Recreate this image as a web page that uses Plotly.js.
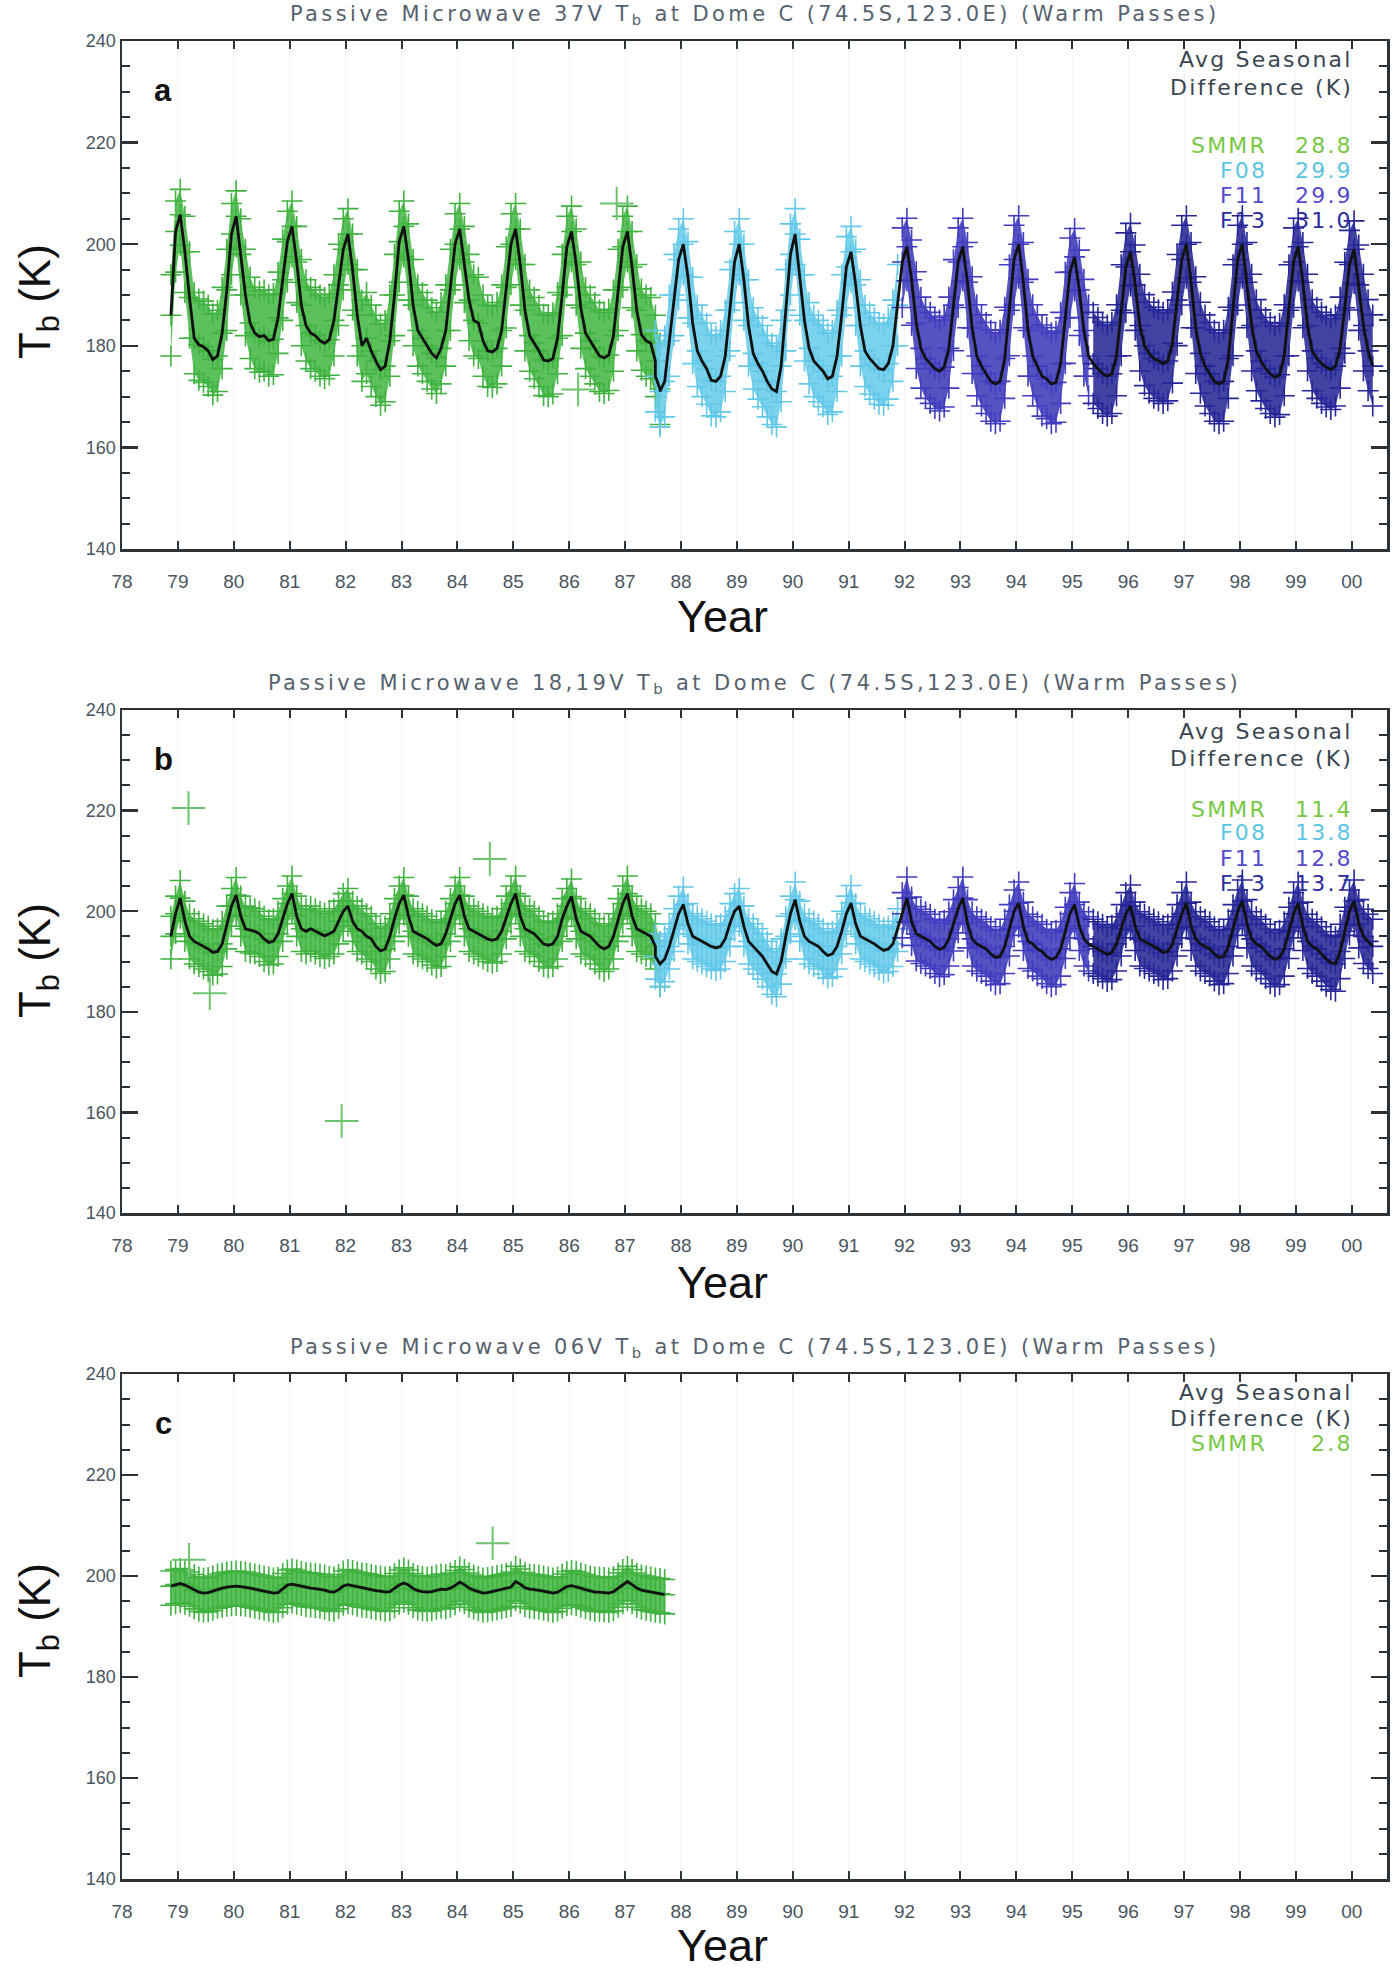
<!DOCTYPE html>
<html>
<head>
<meta charset="utf-8">
<script src="https://cdn.plot.ly/plotly-3.0.1.min.js"></script>
<style>
html,body{margin:0;padding:0;background:#fff;}
#chart{width:1400px;height:1970px;}
text.annotation-text[style*="font-size: 21px"]{letter-spacing:3.4px;}
text.annotation-text[style*="font-size: 22px"]{letter-spacing:2.2px;}
</style>
</head>
<body>
<div id="chart"></div>
<script>
// ---------------- DATA (monthly values, K) ----------------
const sensorNames = ['SMMR', 'F08', 'F11', 'F13'];
const sensorStart = [[1978, 11], [1987, 7], [1991, 12], [1995, 5]];

const yearTicks = [1978,1979,1980,1981,1982,1983,1984,1985,1986,1987,1988,1989,1990,1991,1992,1993,1994,1995,1996,1997,1998,1999,2000];
const yearLabels = ['78','79','80','81','82','83','84','85','86','87','88','89','90','91','92','93','94','95','96','97','98','99','00'];

// Panel a: 37V
const a_SMMR = [186,202.5,
 205.8,198.5,189.5,181.5,180.2,179.8,179,177.3,178,182.5,191,202,
 205.5,198,190,184.5,182.5,181.8,182,181,181.3,185.5,193,200.5,
 203.5,196.5,188,184,182.5,182,181,180.5,181.2,185,192,199,
 202,195,186,180,181.5,179,177,175.3,176,181,190,200.5,
 203.5,197,188,183,181.5,180,178.5,177.6,179.5,183,191,200,
 203,196.5,189,185,184.5,181,179,178.8,179.5,183,191.5,200,
 203,196,187,182,180.5,179,177.2,177,177.5,181.5,190,199.5,
 202.5,196,187.5,182.5,181,179.5,178,177.6,178.2,182,191,199.5,
 202.5,195.5,187,182.2,181,180.5,177,171.5];
const a_F08 = [174,171,173,181,190,197,
 200,193.5,184.5,179,177,175.5,173.2,173,174,178,187,196.5,
 200,193,184,178.5,176.5,175,173,171.5,171,176,187,198,
 202,194,185,179.5,177,176,175,173.5,174,178,186,195.5,
 198.5,192,184,179,177.5,176.5,175.5,175.3,176.5,180,188];
const a_F11 = [196.5,
 199.5,193,184.5,179.5,177.5,176.5,175.5,175,175.8,179.5,188,196.5,
 199.5,192.5,183.5,178,176,174.5,173,172.5,173,177.5,187,197,
 200,192.5,183,178,176,174,173.5,172.5,172.8,176.5,185.5,194.5,
 197.5,191,183,178];
const a_F13 = [176.5,175.5,174.5,174,174.5,178,187,195.5,
 198.5,192,184,180,178.5,177.5,177,176.5,177,180.5,189,197,
 200,192.5,183.5,178.5,176,174.5,173,172.5,173,177.5,187,197,
 200,192.5,184,179,177,175.5,174.5,173.8,174.3,178,187,196.5,
 199.5,192.5,184,179,177.5,176.5,175.8,175.3,176,179.5,187.5,196,
 199,192,184,179,176];
// spread of the cross cloud above / below the mean, by calendar month (Jan..Dec)
const a_up = [5,7,9,9,9,9,9,9,9,9,8,6];
const a_dn = [6,8,8,7,7,7,7,7,7,7,8,8];
const a_wide = [1, 1, 1.12, 1.12];
const a_outX = [1986.16, 1986.85];
const a_outY = [171.4, 208];
const a_diff = ['28.8', '29.9', '29.9', '31.0'];

// Panel b: 18,19V
const b_SMMR = [195,199.5,
 202.6,198,195,194,193.5,193,192.5,191.8,192,193.5,197,201,
 203.2,199,196.5,196.2,196,195.5,194.5,193.8,194,195.5,198.5,201.5,
 203.5,199,196.5,196,196.5,196,195.5,195.1,195.5,196,198,200,
 201,198,196.5,196,195,194.5,193,192.1,192.5,195,198.5,201.5,
 203.2,199,196,195.5,195,194.5,193.8,193.2,193.5,195.5,198.5,201.5,
 203.2,199,196.5,196,195.5,195,194.5,194.2,194.5,196,199,201.5,
 203.5,199,196.5,196,195.5,194.5,193.5,193.2,193.5,195,198.5,201,
 202.9,198.5,196,195.5,195,194,193,192.5,193,195,198.5,201.5,
 203.5,199,196.5,196,195.5,195,193,189.5];
const b_F08 = [191,189.5,190.5,193,196.5,199.5,
 201.3,197.5,195,194.5,194,193.5,193,192.7,193,194.5,197.5,200,
 201,197,194,193,192,191,189.5,188,187.5,190,195,199.5,
 202.3,198,195,194,193.5,193,192,191.2,191.5,193,196,199.5,
 201.6,197.5,195,194.5,194,193.5,192.8,192.2,192.5,193.5,196.5];
const b_F11 = [199.5,
 202.6,198,195.5,195,194.5,194,193,192.4,192.8,194.5,197.5,200.5,
 202.6,197.5,194.5,193.5,193,192.5,191.5,190.8,191,193,196.5,200,
 201.6,197,194,193.5,192.5,192,191,190.4,190.8,192.5,196,199.5,
 201.3,197,194.5,193.5];
const b_F13 = [193,192.5,192,191.4,191.8,193.5,196.5,199.5,
 201,197,194.5,194,193.5,193,192.5,191.8,192,193.5,196.5,199.5,
 201.6,197,194.5,193.5,193,192.5,191.5,190.8,191,193,196.5,200,
 202,197.5,194.5,193.5,193,192,191,190.4,190.8,192.5,196,199.5,
 201.6,197,194,193,192.5,191.5,190.5,189.8,189.5,192,196,200,
 202,197.5,195,194,193];
const b_up = [3.5,4,4.5,4.5,4.5,4.5,4.5,4.5,4.5,4.5,4,3.5];
const b_dn = [4,4,4.5,4.5,4.5,4.5,4.5,4.5,4.5,4.5,4.5,4];
const b_wide = [1, 1, 1.2, 1.2];
const b_outX = [1979.19, 1979.57, 1981.93, 1984.58];
const b_outY = [220.5, 183.7, 158.3, 210.4];
const b_diff = ['11.4', '13.8', '12.8', '13.7'];

// Panel c: 06V (SMMR only)
const c_SMMR = [198,198.3,
 198.5,198.2,197.8,197.3,196.8,196.6,196.7,197,197.4,197.6,197.8,197.9,
 198.0,197.9,197.8,197.6,197.4,197.2,197,196.8,196.6,196.7,197.5,198.2,
 198.4,198.2,197.9,197.7,197.6,197.5,197.4,197.2,196.9,196.8,197.3,198,
 198.3,198.1,197.8,197.6,197.5,197.3,197.1,197,196.8,196.9,197.5,198.2,
 198.6,198.2,197.5,197.1,196.9,196.8,196.9,197.2,197.4,197.3,197.6,198.1,
 198.8,198.3,197.6,197.2,196.9,196.6,196.7,196.9,197.1,197.3,197.5,197.8,
 198.9,198.4,197.7,197.4,197.3,197.2,197,196.8,196.6,196.8,197.4,197.9,
 198.1,197.9,197.6,197.3,197,196.8,196.8,196.7,196.6,196.9,197.6,198.3,
 198.9,198.3,197.6,197.2,197,196.8,196.6,196.5,196.3];
const c_up = [3,3,3,3,3,3,3,3,3,3,3,3];
const c_dn = [3.8,3.8,3.8,3.8,3.8,3.8,3.8,3.8,3.8,3.8,3.8,3.8];
const c_wide = [1];
const c_outX = [1979.2, 1984.63];
const c_outY = [203.2, 206.5];
const c_diff = ['2.8'];

// ---------------- STYLE ----------------
const sensorColor = ['rgb(64,178,64)', 'rgb(98,200,232)', 'rgb(66,60,192)', 'rgb(38,38,152)'];
const sensorFill  = ['rgba(70,184,70,0.88)', 'rgba(104,204,234,0.88)', 'rgba(62,58,186,0.88)', 'rgba(40,40,150,0.88)'];
const legendColor = ['rgb(120,200,70)', 'rgb(92,196,226)', 'rgb(84,74,204)', 'rgb(44,44,156)'];

const W = 1400, H = 1970;
const PX = v => v / W, PY = v => 1 - v / H;
const plotL = 122, plotR = 1387;

const panels = [
  {id: '', letter: 'a', chan: '37V', top: 41, bottom: 549, data: [a_SMMR, a_F08, a_F11, a_F13], up: a_up, dn: a_dn, wide: a_wide,
   outX: a_outX, outY: a_outY, diff: a_diff, legY: [60, 88, 145, 170, 195, 220], yearY: 616, tbY: 302},
  {id: '2', letter: 'b', chan: '18,19V', top: 710, bottom: 1213, data: [b_SMMR, b_F08, b_F11, b_F13], up: b_up, dn: b_dn, wide: b_wide,
   outX: b_outX, outY: b_outY, diff: b_diff, legY: [731, 758, 809, 832, 858, 883], yearY: 1282, tbY: 961},
  {id: '3', letter: 'c', chan: '06V', top: 1374, bottom: 1879, data: [c_SMMR], up: c_up, dn: c_dn, wide: c_wide,
   outX: c_outX, outY: c_outY, diff: c_diff, legY: [1392, 1418, 1443], yearY: 1945, tbY: 1621}
];

function monthX(start, n) {
  const y = start[0], m = start[1];
  return Array.from({length: n}, (_, i) => y + (m - 1 + i + 0.5) / 12);
}
function calMonth(start, i) { return (start[1] - 1 + i) % 12; }

const traces = [];
const layout = {
  width: W, height: H, margin: {l: 0, r: 0, t: 0, b: 0},
  paper_bgcolor: '#ffffff', plot_bgcolor: '#ffffff', showlegend: false,
  font: {family: 'Liberation Sans, Arial, sans-serif', color: '#444', size: 14},
  annotations: []
};

panels.forEach((p) => {
  const xa = 'x' + p.id, ya = 'y' + p.id;
  const lineX = [], lineY = [];
  p.data.forEach((vals, s) => {
    const xs = monthX(sensorStart[s], vals.length);
    const hi = vals.map((v, i) => v + p.up[calMonth(sensorStart[s], i)] * p.wide[s]);
    const lo = vals.map((v, i) => v - p.dn[calMonth(sensorStart[s], i)] * p.wide[s]);
    traces.push({x: xs, y: hi, xaxis: xa, yaxis: ya, mode: 'lines', line: {width: 0, color: sensorColor[s]}, hoverinfo: 'skip'});
    traces.push({x: xs, y: lo, xaxis: xa, yaxis: ya, mode: 'lines', line: {width: 0, color: sensorColor[s]},
                 fill: 'tonexty', fillcolor: sensorFill[s], hoverinfo: 'skip'});
    traces.push({x: xs.concat(xs).concat(xs), y: hi.concat(lo).concat(vals), xaxis: xa, yaxis: ya, mode: 'markers',
                 marker: {symbol: 'cross-thin', size: 15, line: {width: 1.6, color: sensorColor[s]}}, hoverinfo: 'skip'});
    xs.forEach((x, i) => { lineX.push(x); lineY.push(vals[i]); });
  });
  // outliers
  traces.push({x: p.outX, y: p.outY, xaxis: xa, yaxis: ya, mode: 'markers',
               marker: {symbol: 'cross-thin', size: 24, line: {width: 2, color: 'rgb(110,196,110)'}}, hoverinfo: 'skip'});
  // running mean black line (time ordered)
  const order = lineX.map((x, i) => i).sort((i, j) => lineX[i] - lineX[j]);
  traces.push({x: order.map(i => lineX[i]), y: order.map(i => lineY[i]), xaxis: xa, yaxis: ya, mode: 'lines',
               line: {color: '#111', width: 2.8}, hoverinfo: 'skip'});

  layout['xaxis' + p.id] = {
    domain: [PX(plotL), PX(plotR)], anchor: ya, range: [1978, 2000.63],
    tickmode: 'array', tickvals: yearTicks, ticktext: yearLabels,
    ticks: 'inside', ticklen: 8, tickwidth: 2, tickcolor: '#2b3338',
    showline: true, linecolor: '#2b3338', linewidth: 2.5, mirror: 'ticks',
    tickfont: {size: 19, color: '#4a5560', family: 'Liberation Sans, Arial, sans-serif'},
    ticklabelstandoff: 14,
    showgrid: true, gridcolor: 'rgba(0,0,0,0.04)', gridwidth: 1, zeroline: false, fixedrange: true
  };
  layout['yaxis' + p.id] = {
    domain: [PY(p.bottom), PY(p.top)], anchor: xa, range: [140, 240],
    tickmode: 'array', tickvals: [140, 160, 180, 200, 220, 240],
    ticks: 'inside', ticklen: 16, tickwidth: 2.5, tickcolor: '#2b3338',
    minor: {tickmode: 'linear', tick0: 140, dtick: 5, ticks: 'inside', ticklen: 8, tickwidth: 2, tickcolor: '#2b3338', showgrid: false},
    showline: true, linecolor: '#2b3338', linewidth: 2.5, mirror: 'ticks',
    tickfont: {size: 18, color: '#4a5560', family: 'Liberation Sans, Arial, sans-serif'},
    showgrid: false, zeroline: false, fixedrange: true
  };

  const A = layout.annotations;
  const cx = (plotL + plotR) / 2;
  A.push({xref: 'paper', yref: 'paper', x: PX(cx), y: PY(p.top - 26), xanchor: 'center', yanchor: 'middle', showarrow: false,
          text: 'Passive Microwave ' + p.chan + ' T<sub>b</sub>at Dome C (74.5S,123.0E) (Warm Passes)',
          font: {family: 'DejaVu Sans, sans-serif', size: 21, color: '#56626e'}});
  A.push({xref: 'paper', yref: 'paper', x: PX(163), y: PY(p.top + 49), xanchor: 'center', yanchor: 'middle', showarrow: false,
          text: '<b>' + p.letter + '</b>', font: {family: 'Liberation Sans, Arial, sans-serif', size: 31, color: '#111'}});
  A.push({xref: 'paper', yref: 'paper', x: PX(722), y: PY(p.yearY), xanchor: 'center', yanchor: 'middle', showarrow: false,
          text: 'Year', font: {family: 'Liberation Sans Narrow, Liberation Sans, Arial, sans-serif', size: 45, color: '#111'}});
  A.push({xref: 'paper', yref: 'paper', x: PX(38), y: PY(p.tbY), xanchor: 'center', yanchor: 'middle', showarrow: false,
          textangle: -90, text: 'T<sub>b</sub>(K)', font: {family: 'Liberation Sans, Arial, sans-serif', size: 44, color: '#111'}});
  // seasonal difference legend
  const lf = {family: 'DejaVu Sans, sans-serif', size: 22};
  A.push({xref: 'paper', yref: 'paper', x: PX(1355), y: PY(p.legY[0]), xanchor: 'right', yanchor: 'middle', showarrow: false,
          text: 'Avg Seasonal', font: Object.assign({color: '#3a4650'}, lf)});
  A.push({xref: 'paper', yref: 'paper', x: PX(1355), y: PY(p.legY[1]), xanchor: 'right', yanchor: 'middle', showarrow: false,
          text: 'Difference (K)', font: Object.assign({color: '#3a4650'}, lf)});
  p.diff.forEach((d, s) => {
    A.push({xref: 'paper', yref: 'paper', x: PX(1269), y: PY(p.legY[2 + s]), xanchor: 'right', yanchor: 'middle', showarrow: false,
            text: sensorNames[s], font: Object.assign({color: legendColor[s]}, lf)});
    A.push({xref: 'paper', yref: 'paper', x: PX(1355), y: PY(p.legY[2 + s]), xanchor: 'right', yanchor: 'middle', showarrow: false,
            text: d, font: Object.assign({color: legendColor[s]}, lf)});
  });
});

Plotly.newPlot('chart', traces, layout, {staticPlot: true, displayModeBar: false}).then(() => {
  // give subscript glyphs an explicit pixel size, and merge the zero-width baseline
  // reset after each subscript with the text that follows it
  document.querySelectorAll('#chart text').forEach(t => {
    const base = parseFloat(t.style.fontSize) || 20;
    Array.from(t.querySelectorAll('tspan')).forEach(ts => {
      const fs = ts.style.fontSize;
      if (fs && fs.indexOf('%') >= 0) ts.style.fontSize = (base * parseFloat(fs) / 100).toFixed(1) + 'px';
      if (ts.textContent === '\u200b') {
        const next = ts.nextSibling;
        let rest = '';
        if (next) { rest = next.textContent; next.parentNode.removeChild(next); }
        ts.textContent = '\u00a0' + rest;
        ts.style.fontSize = base + 'px';
      }
    });
  });
});
</script>
</body>
</html>
